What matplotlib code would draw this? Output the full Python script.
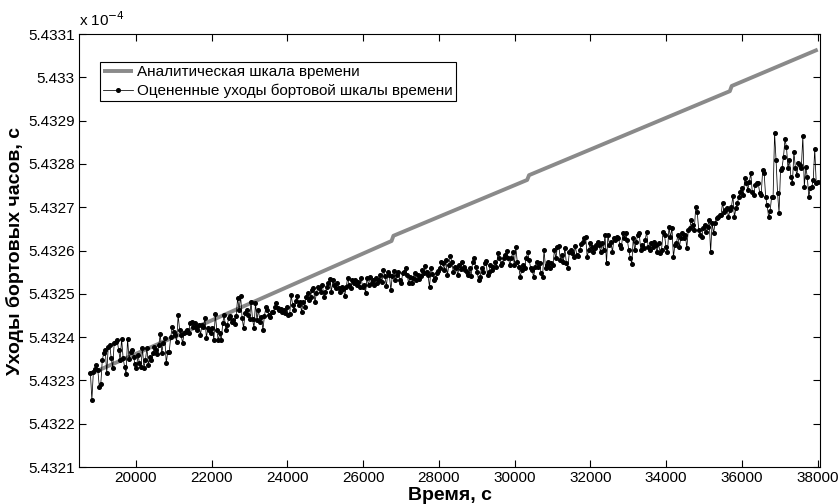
import numpy as np
import matplotlib
matplotlib.use("Agg")
import matplotlib.pyplot as plt
from matplotlib.ticker import FixedLocator, FixedFormatter

plt.rcParams['font.family'] = ['Liberation Sans', 'DejaVu Sans']

# ---- data (clock offsets in nanoseconds; axis shows them in units of 1e-4 s) ----
t_start, t_end = 18800, 38000

drift_ns = [
    # 18800 .. ~22500
    543231.8, 543225.5, 543231.9, 543232.6, 543233.6, 543232.4, 543228.5, 543229.2, 543234.7, 543236.3,
    543237.0, 543231.7, 543237.7, 543238.2, 543235.2, 543232.9, 543238.6, 543238.9, 543239.3, 543237.0,
    543234.7, 543239.6, 543235.2, 543233.1, 543231.5, 543239.6, 543234.9, 543236.6, 543237.0, 543235.4,
    543233.8, 543232.9, 543235.9, 543234.0, 543233.1, 543237.5, 543232.9, 543234.7, 543237.5, 543233.6,
    543235.4, 543234.7, 543236.3, 543237.7, 543237.0, 543236.1, 543238.2, 543240.7, 543236.3, 543238.6,
    543239.8, 543234.0, 543236.6, 543236.6, 543240.0, 543242.3, 543241.2, 543240.5, 543238.9, 543245.1,
    543241.6, 543240.5, 543238.6, 543240.9, 543241.2, 543241.6, 543240.9, 543243.3, 543243.5, 543242.3,
    543243.3, 543242.3, 543241.6, 543242.8, 543240.5, 543242.8, 543242.3, 543244.4, 543239.8, 543242.1,
    543241.6, 543240.9, 543242.1, 543239.3, 543245.3, 543241.6, 543239.3, 543240.9, 543239.3, 543243.3,
    543245.1, 543241.6, 543242.8,
    # ~22500 .. ~26400
    543244.4, 543244.9, 543243.5, 543244.0, 543243.0, 543244.9, 543249.0, 543246.3, 543249.5, 543244.4,
    543242.1, 543245.6, 543246.3, 543245.1, 543244.2, 543248.1, 543244.2, 543242.1, 543247.9, 543244.0,
    543246.3, 543243.5, 543244.7, 543241.6, 543244.9, 543246.9, 543246.3, 543245.1, 543244.7, 543245.8,
    543245.8, 543246.9, 543247.9, 543246.7, 543246.3, 543246.5, 543245.8, 543246.3, 543245.6, 543246.9,
    543245.1, 543245.3, 543249.7, 543247.4, 543246.3, 543248.3, 543249.5, 543247.4, 543248.1, 543245.8,
    543248.1, 543246.9, 543249.3, 543250.2, 543248.6, 543249.3, 543250.9, 543251.3, 543248.1, 543250.2,
    543251.6, 543251.3, 543250.4, 543252.0, 543249.3, 543250.4, 543251.6, 543252.5, 543253.4, 543250.4,
    543253.2, 543252.0, 543251.3, 543252.5, 543251.3, 543250.4, 543251.6, 543251.1, 543249.5, 543251.6,
    543253.7, 543252.0, 543251.3, 543253.2, 543252.5, 543253.2, 543252.0, 543252.7, 543251.6, 543253.7,
    543251.6, 543252.0, 543250.2, 543253.7, 543252.0,
    # ~26400 .. ~30300
    543253.9, 543252.5, 543253.2, 543252.0, 543253.7, 543252.5, 543253.2, 543254.3, 543252.7, 543255.5,
    543254.1, 543251.8, 543255.0, 543254.3, 543250.9, 543254.1, 543255.3, 543253.2, 543254.3, 543255.0,
    543253.2, 543252.5, 543254.8, 543255.0, 543256.0, 543254.3, 543252.5, 543253.9, 543252.5, 543253.7,
    543254.8, 543253.2, 543254.3, 543253.4, 543254.1, 543255.5, 543254.8, 543256.4, 543255.0, 543254.3,
    543251.6, 543256.0, 543254.6, 543253.2, 543253.7, 543254.8, 543255.3, 543256.0, 543257.4, 543257.1,
    543255.5, 543257.8, 543254.3, 543256.7, 543258.7, 543257.4, 543255.0, 543256.2, 543256.0, 543254.3,
    543256.7, 543255.7, 543257.4, 543256.2, 543255.5, 543255.0, 543254.3, 543256.0, 543254.1, 543257.4,
    543258.3, 543256.2, 543255.0, 543253.2, 543253.9, 543256.0, 543255.0, 543257.1, 543257.6, 543254.3,
    543255.0, 543256.7, 543255.5, 543256.2, 543257.4, 543256.2, 543259.4, 543258.3, 543256.7, 543257.1,
    543258.3, 543259.0, 543259.9, 543258.3, 543256.7,
    # ~30300 .. ~34200
    543258.3, 543259.6, 543256.7, 543260.8, 543257.4, 543256.2, 543253.9, 543255.5, 543256.7, 543256.0,
    543258.3, 543259.6, 543257.8, 543256.0, 543255.5, 543253.9, 543256.2, 543257.4, 543256.2, 543257.1,
    543254.8, 543253.9, 543260.1, 543256.0, 543256.7, 543257.4, 543256.0, 543257.1, 543256.7, 543260.1,
    543258.3, 543260.8, 543261.0, 543257.8, 543259.0, 543257.4, 543260.6, 543257.1, 543256.0, 543259.6,
    543260.1, 543259.4, 543258.5, 543261.0, 543259.0, 543258.7, 543260.1, 543261.5, 543262.0, 543262.9,
    543263.1, 543258.5, 543260.1, 543261.7, 543260.8, 543259.6, 543260.6, 543261.3, 543262.0, 543261.3,
    543259.6, 543261.7, 543260.1, 543263.6, 543257.1, 543263.6, 543261.3, 543262.0, 543259.6, 543262.9,
    543262.4, 543263.1, 543262.9, 543261.3, 543260.6, 543264.0, 543262.9, 543264.0, 543262.4, 543260.1,
    543258.3, 543256.9, 543262.9, 543260.1, 543262.0, 543263.6, 543264.0, 543260.1, 543261.3, 543260.6,
    543262.4, 543264.3, 543260.8, 543260.1, 543261.7, 543260.8, 543262.0, 543261.3,
    # ~34200 .. 38000
    543259.6, 543261.7, 543259.4, 543260.1, 543264.3, 543263.6, 543260.8, 543259.6, 543265.4, 543263.1,
    543265.2, 543258.5, 543261.3, 543261.7, 543263.6, 543260.8, 543262.9, 543264.0, 543262.9, 543263.6,
    543260.6, 543264.7, 543265.2, 543267.1, 543265.9, 543264.7, 543270.1, 543268.9, 543264.7, 543263.6,
    543263.1, 543265.2, 543265.9, 543264.3, 543265.4, 543267.1, 543259.6, 543266.4, 543264.0, 543266.4,
    543267.5, 543267.7, 543268.2, 543268.2, 543271.0, 543268.9, 543269.4, 543269.8, 543267.7, 543269.4,
    543270.1, 543272.6, 543267.7, 543269.8, 543271.0, 543272.4, 543273.5, 543274.4, 543272.8, 543276.7,
    543275.6, 543274.0, 543275.8, 543277.9, 543273.5, 543272.8, 543275.1, 543275.6, 543275.6, 543273.3,
    543272.8, 543278.6, 543277.9, 543272.4, 543270.5, 543267.7, 543269.1, 543272.4, 543272.4, 543287.1,
    543280.9, 543273.3, 543268.7, 543278.6, 543279.1, 543281.6, 543285.7, 543283.9, 543279.1, 543280.9,
    543277.0, 543275.6, 543282.7, 543279.1, 543277.4, 543280.2, 543279.8, 543279.1, 543286.4, 543274.7,
    543279.3, 543277.0, 543272.4, 543274.4, 543274.7, 543276.3, 543283.4, 543275.6, 543275.8,
]

# analytical time scale: vertices of the piecewise-linear curve (time, ns)
analytic_t = [18800, 26750, 26800, 30330, 30380, 35680, 35730, 38000]
analytic_ns = [543231.5, 543262.2, 543263.4, 543276.3, 543277.4, 543296.8, 543298.0, 543306.4]

xticks = [20000, 22000, 24000, 26000, 28000, 30000, 32000, 34000, 36000, 38000]
yticks = [5.4321, 5.4322, 5.4323, 5.4324, 5.4325, 5.4326, 5.4327, 5.4328, 5.4329, 5.433, 5.4331]
ytick_labels = ['5.4321', '5.4322', '5.4323', '5.4324', '5.4325', '5.4326',
                '5.4327', '5.4328', '5.4329', '5.433', '5.4331']

label_analytic = 'Аналитическая шкала времени'
label_est = 'Оцененные уходы бортовой шкалы времени'

# ---- plotting ----
scale = 1e-5  # ns -> units of 1e-4 s
t = np.linspace(t_start, t_end, len(drift_ns))
y_est = np.array(drift_ns) * scale
y_an = np.array(analytic_ns) * scale

fig = plt.figure(figsize=(8.38, 5.04), dpi=100)
ax = fig.add_axes([0.0943, 0.0734, 0.8842, 0.8591])

ax.plot(analytic_t, y_an, color='#8a8a8a', lw=2.8, solid_capstyle='butt',
        label=label_analytic, zorder=2)
ax.plot(t, y_est, color='black', lw=0.55, marker='o', markersize=2.6,
        markerfacecolor='black', markeredgecolor='black', label=label_est, zorder=3)

ax.set_xlim(18500, 38060)
ax.set_ylim(5.4321, 5.4331)
ax.xaxis.set_major_locator(FixedLocator(xticks))
ax.xaxis.set_major_formatter(FixedFormatter([str(v) for v in xticks]))
ax.yaxis.set_major_locator(FixedLocator(yticks))
ax.yaxis.set_major_formatter(FixedFormatter(ytick_labels))

ax.tick_params(direction='in', length=5, width=0.8, top=True, right=True,
               labelsize=11, pad=3)
for s in ax.spines.values():
    s.set_linewidth(0.8)

ax.set_xlabel('Время, с', fontsize=14, fontweight='bold', labelpad=1)
ax.set_ylabel('Уходы бортовых часов, с', fontsize=14, fontweight='bold', labelpad=3)

ax.text(0.0, 1.012, r'x 10$^{-4}$', transform=ax.transAxes, fontsize=11,
        ha='left', va='bottom')

leg = ax.legend(loc='upper left', bbox_to_anchor=(0.028, 0.935), fontsize=11,
                frameon=True, fancybox=False, edgecolor='black', framealpha=1,
                handlelength=2.0, handletextpad=0.25, borderpad=0.2, labelspacing=0.3,
                borderaxespad=0)
leg.get_frame().set_linewidth(0.8)

fig.savefig('out.png', dpi=100)
